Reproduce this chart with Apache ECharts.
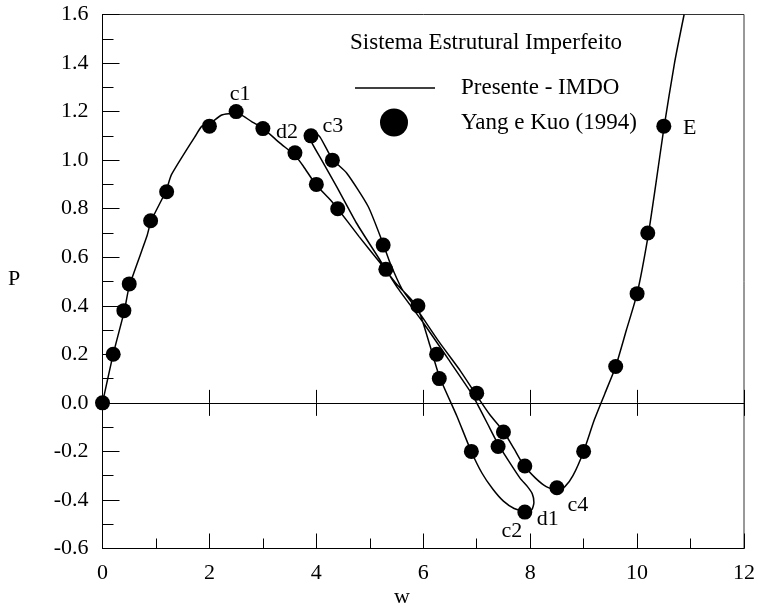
<!DOCTYPE html>
<html>
<head>
<meta charset="utf-8">
<script src="https://cdn.jsdelivr.net/npm/echarts@6/dist/echarts.min.js"></script>
<style>
  html, body { margin: 0; padding: 0; background: #fff; }
  #chart { width: 758px; height: 609px; }
</style>
</head>
<body>
<div id="chart"></div>
<script>
// ---------- DATA ----------
// Presente - IMDO : equilibrium path (w, P) in path order
const imdoW = [0, 0.2, 0.41, 0.5, 0.83, 0.91, 1.19, 1.29, 1.73, 1.86, 2.0, 2.23, 2.4, 2.5, 2.79, 3.01, 3.32, 3.6, 3.76, 3.99, 4.26, 4.4, 4.8, 5.2, 5.5, 5.8, 5.95, 6.13, 6.3, 6.63, 6.89, 7.1, 7.3, 7.5, 7.7, 7.9, 8.03, 8.07,
  8.04, 7.95, 7.81, 7.6, 7.4, 7.2, 7.0, 6.9, 6.5, 6.0, 5.5, 5.2, 4.75, 4.38, 4.1, 3.92, 3.88,
  3.95, 4.07,
  4.3, 4.57, 4.97, 5.25, 5.38, 5.6, 5.9, 6.3, 6.7, 7.0, 7.25, 7.5, 7.7, 7.87, 8.1, 8.3, 8.5, 8.65, 8.8, 9.0, 9.2, 9.4, 9.6, 9.8, 10.0, 10.2, 10.35, 10.5, 10.7, 10.88];
const imdoP = [0, 0.2, 0.38, 0.48, 0.686, 0.75, 0.874, 0.94, 1.097, 1.14, 1.15, 1.186, 1.192, 1.195, 1.159, 1.13, 1.07, 1.02, 0.974, 0.90, 0.837, 0.80, 0.685, 0.575, 0.49, 0.42, 0.36, 0.233, 0.11, -0.055, -0.196, -0.29, -0.355, -0.405, -0.435, -0.447, -0.44, -0.41,
  -0.375, -0.345, -0.31, -0.24, -0.17, -0.085, 0.0, 0.04, 0.17, 0.33, 0.48, 0.585, 0.741, 0.891, 1.0, 1.07, 1.10,
  1.115, 1.095,
  1.004, 0.946, 0.809, 0.655, 0.576, 0.47, 0.38, 0.25, 0.13, 0.03, -0.05, -0.117, -0.19, -0.254, -0.31, -0.345, -0.36, -0.345, -0.3, -0.2, -0.07, 0.04, 0.15, 0.3, 0.45, 0.68, 0.9, 1.13, 1.4, 1.6];

// Yang e Kuo (1994) : reference points
const ykW = [0, 0.2, 0.4, 0.5, 0.9, 1.2, 2.0, 2.5, 3.0, 3.6, 3.9, 4.0, 4.3, 4.4, 5.25, 5.3, 5.9, 6.25, 6.3, 6.9, 7.0, 7.4, 7.5, 7.9, 7.9, 8.5, 9.0, 9.6, 10.0, 10.2, 10.5];
const ykP = [0, 0.2, 0.38, 0.49, 0.75, 0.87, 1.14, 1.2, 1.13, 1.03, 1.1, 0.9, 1.0, 0.8, 0.65, 0.55, 0.4, 0.2, 0.1, -0.2, 0.04, -0.18, -0.12, -0.26, -0.45, -0.35, -0.2, 0.15, 0.45, 0.7, 1.14];

// Annotated critical points (name, w, P of the point they mark)
const annoName = ['c1', 'd2', 'c3', 'c2', 'd1', 'c4', 'E'];
const annoW    = [2.5, 3.6, 3.9, 7.9, 7.9, 8.5, 10.5];
const annoP    = [1.2, 1.03, 1.1, -0.45, -0.45, -0.35, 1.14];

// Axis definitions
const xMin = 0, xMax = 12, xStep = 2;
const yMin = -0.6, yMax = 1.6, yStep = 0.2;

// Legend / titles text
const legendTitle = 'Sistema Estrutural Imperfeito';
const seriesNames = ['Presente - IMDO', 'Yang e Kuo (1994)'];
const xName = 'w', yName = 'P';

// ---------- STYLE ----------
const FONT = '"Liberation Serif", "Times New Roman", serif';
const FS = 22;
const LFS = 23;
// label offsets (px) for annotations, same order as annoName
const annoOffset = [[4, -17], [-8, -21], [22, -10], [-13, 19], [23, 7], [21, 17], [26, 2]];

const chart = echarts.init(document.getElementById('chart'), null, { renderer: 'canvas' });

const imdoData = imdoW.map((w, i) => [w, imdoP[i]]);
const ykData = ykW.map((w, i) => [w, ykP[i]]);
const annoData = annoName.map((n, i) => ({
  value: [annoW[i], annoP[i]],
  label: { show: true, formatter: n, offset: annoOffset[i] }
}));

const axisLabelStyle = { color: '#000', fontFamily: FONT, fontSize: FS };

const option = {
  backgroundColor: '#fff',
  animation: false,
  grid: {
    left: 102.5, right: 14, top: 14.5, bottom: 60.5,
    show: true, borderColor: '#333', borderWidth: 1, backgroundColor: 'transparent'
  },
  xAxis: [
    {
      type: 'value', min: xMin, max: xMax, interval: xStep, position: 'bottom',
      axisLine: { onZero: false, lineStyle: { color: '#000', width: 1 } },
      axisTick: { inside: true, length: 15, lineStyle: { color: '#000' } },
      minorTick: { show: true, splitNumber: 2, length: 10, lineStyle: { color: '#000' } },
      splitLine: { show: false },
      axisLabel: Object.assign({ margin: 14 }, axisLabelStyle)
    },
    {
      type: 'value', min: xMin, max: xMax, interval: xStep, position: 'bottom',
      axisLine: { onZero: true, onZeroAxisIndex: 0, lineStyle: { color: '#000', width: 1 } },
      axisTick: { inside: true, length: 13, lineStyle: { color: '#000' } },
      splitLine: { show: false },
      axisLabel: { show: false }
    },
    {
      type: 'value', min: xMin, max: xMax, interval: xStep, position: 'bottom',
      axisLine: { onZero: true, onZeroAxisIndex: 0, lineStyle: { color: '#000', width: 1 } },
      axisTick: { inside: false, length: 13, lineStyle: { color: '#000' } },
      splitLine: { show: false },
      axisLabel: { show: false }
    }
  ],
  yAxis: [
    {
      type: 'value', min: yMin, max: yMax, interval: yStep,
      axisLine: { onZero: false, lineStyle: { color: '#000', width: 1 } },
      axisTick: { inside: true, length: 17, lineStyle: { color: '#000' } },
      minorTick: { show: true, splitNumber: 2, length: 11, lineStyle: { color: '#000' } },
      splitLine: { show: false },
      axisLabel: Object.assign({ margin: 14, formatter: v => v.toFixed(1) }, axisLabelStyle)
    }
  ],
  graphic: [
    { type: 'text', left: 350, top: 31, style: { text: legendTitle, font: LFS + 'px ' + FONT, fill: '#000' } },
    { type: 'line', shape: { x1: 355, y1: 88, x2: 435, y2: 88 }, style: { stroke: '#000', lineWidth: 1.5 } },
    { type: 'text', left: 461, top: 76, style: { text: seriesNames[0], font: LFS + 'px ' + FONT, fill: '#000' } },
    { type: 'circle', shape: { cx: 394, cy: 122.5, r: 14 }, style: { fill: '#000' } },
    { type: 'text', left: 461, top: 111, style: { text: seriesNames[1], font: LFS + 'px ' + FONT, fill: '#000' } },
    { type: 'text', left: 8, top: 268, style: { text: yName, font: FS + 'px ' + FONT, fill: '#000' } },
    { type: 'text', left: 394, top: 586, style: { text: xName, font: FS + 'px ' + FONT, fill: '#000' } }
  ],
  series: [
    {
      name: seriesNames[0], type: 'line', xAxisIndex: 0, yAxisIndex: 0,
      data: imdoData, symbol: 'none', smooth: 0.2,
      lineStyle: { color: '#000', width: 1.5 }, z: 3
    },
    {
      name: seriesNames[1], type: 'scatter', xAxisIndex: 0, yAxisIndex: 0,
      data: ykData, symbol: 'circle', symbolSize: 15,
      itemStyle: { color: '#000', opacity: 1 }, z: 4
    },
    {
      name: 'anno', type: 'scatter', xAxisIndex: 0, yAxisIndex: 0,
      data: annoData, symbolSize: 1, silent: true,
      itemStyle: { color: 'transparent', opacity: 1 },
      label: { position: 'inside', color: '#000', opacity: 1, fontFamily: FONT, fontSize: FS },
      z: 5
    }
  ]
};
chart.setOption(option);
</script>
</body>
</html>
